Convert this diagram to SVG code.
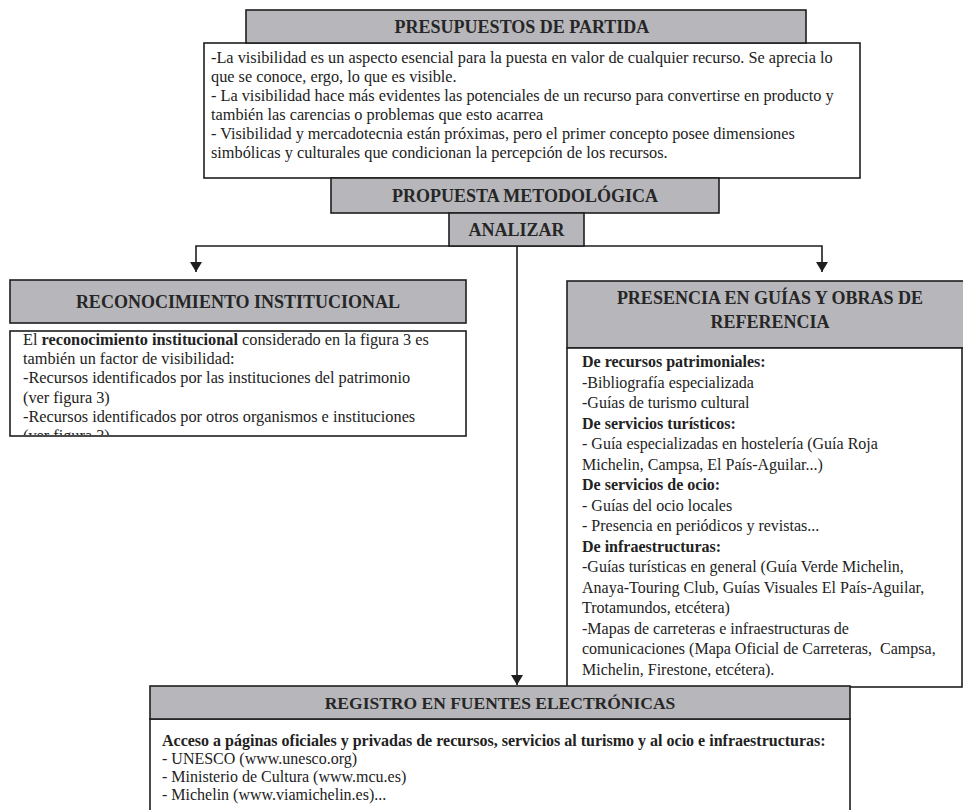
<svg xmlns="http://www.w3.org/2000/svg" width="963" height="810" viewBox="0 0 963 810">
<style>
.hdr{fill:#b7b7bb;stroke:#1e1e1e;stroke-width:1.6}
.box{fill:#ffffff;stroke:#1e1e1e;stroke-width:1.6}
.ht{font-family:"Liberation Serif","Times New Roman",serif;font-weight:bold;font-size:18px;fill:#262626;text-anchor:middle}
.bt{font-family:"Liberation Serif","Times New Roman",serif;font-size:16.3px;fill:#222222}
.pt{font-family:"Liberation Serif","Times New Roman",serif;font-size:16px;fill:#222222}
.b{font-weight:bold}
.conn{stroke:#1e1e1e;stroke-width:1.6;fill:none}
</style>
<defs>
<marker id="arr" viewBox="0 0 10 12" refX="10" refY="6" markerWidth="10" markerHeight="12" markerUnits="userSpaceOnUse" orient="auto">
<path d="M0,0 L10,6 L0,12 z" fill="#1e1e1e"/>
</marker>
<clipPath id="clipRec"><rect x="11" y="332" width="454" height="103"/></clipPath>
</defs>

<g id="connectors">
<path class="conn" d="M517,246 H196 V272" marker-end="url(#arr)"/>
<path class="conn" d="M517,246 H822 V272" marker-end="url(#arr)"/>
<path class="conn" d="M517,246 V685" marker-end="url(#arr)"/>
</g>

<g id="presupuestos">
<rect class="box" x="204" y="43" width="656" height="135"/>
<rect class="hdr" x="246" y="10" width="560" height="33"/>
<text class="ht" x="522" y="33">PRESUPUESTOS DE PARTIDA</text>
<text class="bt" x="211" y="63">-La visibilidad es un aspecto esencial para la puesta en valor de cualquier recurso. Se aprecia lo</text>
<text class="bt" x="211" y="82">que se conoce, ergo, lo que es visible.</text>
<text class="bt" x="211" y="101">- La visibilidad hace más evidentes las potenciales de un recurso para convertirse en producto y</text>
<text class="bt" x="211" y="120">también las carencias o problemas que esto acarrea</text>
<text class="bt" x="211" y="139">- Visibilidad y mercadotecnia están próximas, pero el primer concepto posee dimensiones</text>
<text class="bt" x="211" y="158">simbólicas y culturales que condicionan la percepción de los recursos.</text>
</g>

<g id="propuesta">
<rect class="hdr" x="331" y="178" width="388" height="35"/>
<text class="ht" x="525" y="202">PROPUESTA METODOLÓGICA</text>
</g>

<g id="analizar">
<rect class="hdr" x="449" y="213" width="135" height="33"/>
<text class="ht" x="516.5" y="236">ANALIZAR</text>
</g>

<g id="reconocimiento">
<rect class="hdr" x="10" y="280" width="456" height="43"/>
<text class="ht" x="238" y="308">RECONOCIMIENTO INSTITUCIONAL</text>
<rect class="box" x="10" y="331" width="456" height="105"/>
<g clip-path="url(#clipRec)">
<text class="bt" x="23" y="345">El <tspan class="b">reconocimiento institucional</tspan> considerado en la figura 3 es</text>
<text class="bt" x="23" y="364.2">también un factor de visibilidad:</text>
<text class="bt" x="23" y="383.4">-Recursos identificados por las instituciones del patrimonio</text>
<text class="bt" x="23" y="402.6">(ver figura 3)</text>
<text class="bt" x="23" y="421.8">-Recursos identificados por otros organismos e instituciones</text>
<text class="bt" x="23" y="441">(ver figura 3)</text>
</g>
</g>

<g id="presencia">
<rect class="hdr" x="567" y="281" width="410" height="67"/>
<text class="ht" x="770" y="304">PRESENCIA EN GUÍAS Y OBRAS DE</text>
<text class="ht" x="770" y="328">REFERENCIA</text>
<rect class="box" x="567" y="348" width="395" height="339"/>
<text class="pt b" x="582" y="367">De recursos patrimoniales:</text>
<text class="pt" x="582" y="387.5">-Bibliografía especializada</text>
<text class="pt" x="582" y="408">-Guías de turismo cultural</text>
<text class="pt b" x="582" y="428.5">De servicios turísticos:</text>
<text class="pt" x="582" y="449">- Guía especializadas en hostelería (Guía Roja</text>
<text class="pt" x="582" y="469.5">Michelin, Campsa, El País-Aguilar...)</text>
<text class="pt b" x="582" y="490">De servicios de ocio:</text>
<text class="pt" x="582" y="510.5">- Guías del ocio locales</text>
<text class="pt" x="582" y="531">- Presencia en periódicos y revistas...</text>
<text class="pt b" x="582" y="551.5">De infraestructuras:</text>
<text class="pt" x="582" y="572">-Guías turísticas en general (Guía Verde Michelin,</text>
<text class="pt" x="582" y="592.5">Anaya-Touring Club, Guías Visuales El País-Aguilar,</text>
<text class="pt" x="582" y="613">Trotamundos, etcétera)</text>
<text class="pt" x="582" y="633.5">-Mapas de carreteras e infraestructuras de</text>
<text class="pt" x="582" y="654">comunicaciones (Mapa Oficial de Carreteras,&#160; Campsa,</text>
<text class="pt" x="582" y="674.5">Michelin, Firestone, etcétera).</text>
</g>

<g id="registro">
<rect class="box" x="150" y="719" width="700" height="100"/>
<rect class="hdr" x="150" y="686" width="700" height="33"/>
<text class="ht" x="500" y="709" style="font-size:17.5px">REGISTRO EN FUENTES ELECTRÓNICAS</text>
<text class="pt b" x="162" y="746">Acceso a páginas oficiales y privadas de recursos, servicios al turismo y al ocio e infraestructuras:</text>
<text class="pt" x="162" y="764">- UNESCO (www.unesco.org)</text>
<text class="pt" x="162" y="782">- Ministerio de Cultura (www.mcu.es)</text>
<text class="pt" x="162" y="800">- Michelin (www.viamichelin.es)...</text>
</g>
</svg>
